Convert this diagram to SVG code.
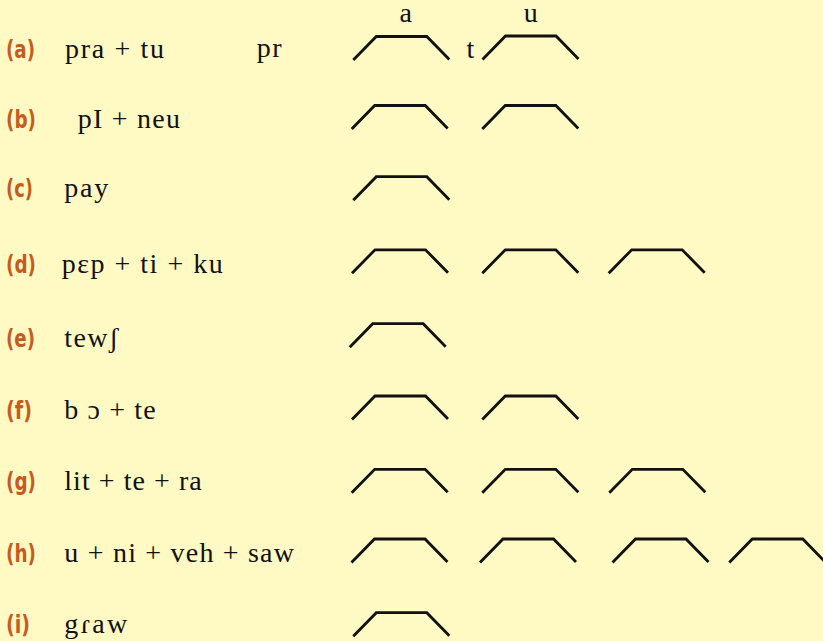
<svg xmlns="http://www.w3.org/2000/svg" xmlns:xlink="http://www.w3.org/1999/xlink" width="823" height="641" viewBox="0 0 823 641">
<style>
.bg{fill:#FFF9C4}
.lbl{font-family:"Liberation Sans Narrow","DejaVu Sans Condensed","Liberation Sans",sans-serif;font-stretch:condensed;font-weight:bold;font-size:24.5px;fill:#C55B1F}
.tx{font-family:"Liberation Serif","Times New Roman",serif;font-size:28px;fill:#111}
.tz{fill:none;stroke:#111;stroke-width:2.8;stroke-linejoin:miter}
</style>
<defs>
<path id="tz" class="tz" d="M0,23.5 L23,0 L73.5,0 L96,23"/>
</defs>
<rect class="bg" x="0" y="0" width="823" height="641"/>
<g id="row-a">
<text class="lbl" x="6" y="58" textLength="29" lengthAdjust="spacingAndGlyphs">(a)</text>
<text class="tx" x="65" y="58" textLength="99" lengthAdjust="spacing">pra + tu</text>
<text class="tx" x="256.7" y="57" textLength="25" lengthAdjust="spacing">pr</text>
<text class="tx" x="405.7" y="22" text-anchor="middle">a</text>
<text class="tx" x="530.7" y="22" text-anchor="middle">u</text>
<text class="tx" x="466.5" y="58">t</text>
<use xlink:href="#tz" x="353.3" y="36.5"/>
<use xlink:href="#tz" x="482.5" y="36"/>
</g>
<g id="row-b">
<text class="lbl" x="6" y="128" textLength="30" lengthAdjust="spacingAndGlyphs">(b)</text>
<text class="tx" x="77.7" y="128" textLength="102.3" lengthAdjust="spacing">pI + neu</text>
<use xlink:href="#tz" x="351.7" y="105.5"/>
<use xlink:href="#tz" x="482.3" y="105.5"/>
</g>
<g id="row-c">
<text class="lbl" x="6" y="197" textLength="27" lengthAdjust="spacingAndGlyphs">(c)</text>
<text class="tx" x="64.3" y="197" textLength="44" lengthAdjust="spacing">pay</text>
<use xlink:href="#tz" x="353.3" y="176.7"/>
</g>
<g id="row-d">
<text class="lbl" x="6" y="273" textLength="30" lengthAdjust="spacingAndGlyphs">(d)</text>
<text class="tx" x="61.7" y="273" textLength="161" lengthAdjust="spacing">pɛp + ti + ku</text>
<use xlink:href="#tz" x="352" y="249.8"/>
<use xlink:href="#tz" x="482.3" y="249.8"/>
<use xlink:href="#tz" x="608.7" y="249.8"/>
</g>
<g id="row-e">
<text class="lbl" x="6" y="346.5" textLength="29" lengthAdjust="spacingAndGlyphs">(e)</text>
<text class="tx" x="64.3" y="346.5" textLength="54" lengthAdjust="spacing">tewʃ</text>
<use xlink:href="#tz" x="349.7" y="323.7"/>
</g>
<g id="row-f">
<text class="lbl" x="6" y="418.5" textLength="26" lengthAdjust="spacingAndGlyphs">(f)</text>
<text class="tx" x="64.3" y="418.5" textLength="91.4" lengthAdjust="spacing">b ɔ + te</text>
<use xlink:href="#tz" x="352" y="396"/>
<use xlink:href="#tz" x="482.3" y="396"/>
</g>
<g id="row-g">
<text class="lbl" x="6" y="490" textLength="30" lengthAdjust="spacingAndGlyphs">(g)</text>
<text class="tx" x="64.3" y="490" textLength="137.4" lengthAdjust="spacing">lit + te + ra</text>
<use xlink:href="#tz" x="351.7" y="469.3"/>
<use xlink:href="#tz" x="482.3" y="469.3"/>
<use xlink:href="#tz" x="609.3" y="469.3"/>
</g>
<g id="row-h">
<text class="lbl" x="6" y="561.7" textLength="30" lengthAdjust="spacingAndGlyphs">(h)</text>
<text class="tx" x="64.3" y="561.7" textLength="229.7" lengthAdjust="spacing">u + ni + veh + saw</text>
<use xlink:href="#tz" x="351.5" y="539"/>
<use xlink:href="#tz" x="480" y="539"/>
<use xlink:href="#tz" x="612.5" y="539"/>
<use xlink:href="#tz" x="729.3" y="539"/>
</g>
<g id="row-i">
<text class="lbl" x="6" y="633" textLength="24" lengthAdjust="spacingAndGlyphs">(i)</text>
<text class="tx" x="64.3" y="633" textLength="63" lengthAdjust="spacing">gɾaw</text>
<use xlink:href="#tz" x="353.3" y="612.7"/>
</g>
<g id="connectors"/>
</svg>
